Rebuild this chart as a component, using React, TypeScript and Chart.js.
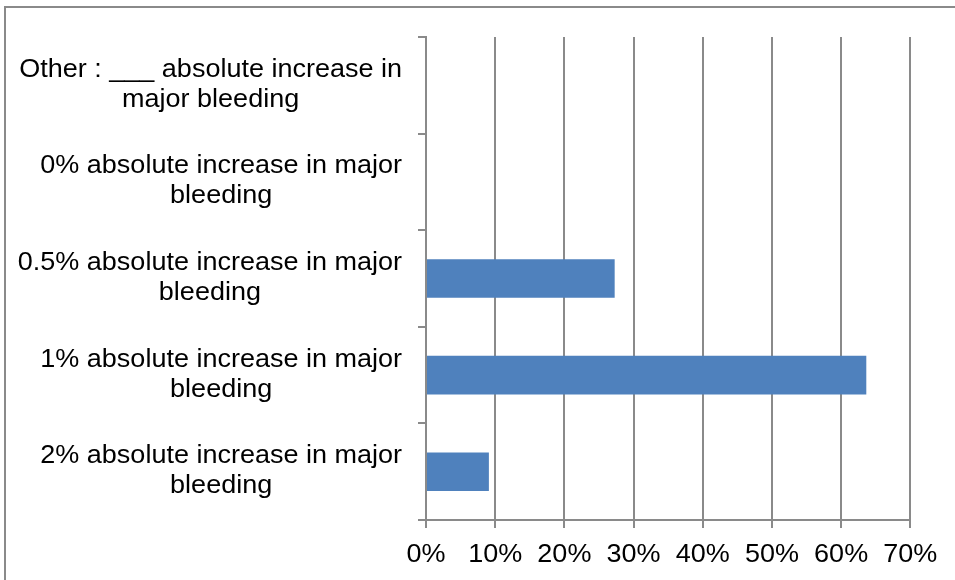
import React, { useEffect, useRef } from "react";
import { Chart, registerables } from "chart.js";

Chart.register(...registerables);

// Answer options, top to bottom, already split into display lines
const categories: string[][] = [
  ["Other : ___ absolute increase in", "major bleeding"],
  ["0% absolute increase in major", "bleeding"],
  ["0.5% absolute increase in major", "bleeding"],
  ["1% absolute increase in major", "bleeding"],
  ["2% absolute increase in major", "bleeding"],
];

// Share of responses (%)
const responses: number[] = [0, 0, 27.27, 63.64, 9.09];

const xTickValues: number[] = [0, 10, 20, 30, 40, 50, 60, 70];
const xTickLabels: string[] = ["0%", "10%", "20%", "30%", "40%", "50%", "60%", "70%"];

const FONT = '25px "Liberation Sans", Arial, sans-serif';
const STRETCH = 1.08;
const LINE_GAP = 30;
const GRID = "#8a8a8a";
const BAR = "#4f81bd";

// Outer frame plus hand-set tick labels (wrapped, centred per label, slightly wide)
const textPlugin = {
  id: "frameAndLabels",
  beforeDraw(chart: any) {
    const ctx = chart.ctx;
    ctx.save();
    ctx.strokeStyle = GRID;
    ctx.lineWidth = 2;
    ctx.strokeRect(5, 7, 1200, 1200);
    ctx.restore();
  },
  afterDraw(chart: any) {
    const ctx = chart.ctx;
    const y = chart.scales.y;
    const x = chart.scales.x;
    ctx.save();
    ctx.font = FONT;
    ctx.fillStyle = "#000000";
    ctx.textAlign = "center";
    ctx.textBaseline = "alphabetic";

    categories.forEach((lines, i) => {
      const c = y.getPixelForValue(i);
      const widest = Math.max(...lines.map((l) => ctx.measureText(l).width)) * STRETCH;
      const cx = y.right - 24 - widest / 2;
      const first = c - ((lines.length - 1) * LINE_GAP) / 2 + 6.5;
      lines.forEach((line, k) => {
        ctx.save();
        ctx.translate(cx, first + k * LINE_GAP);
        ctx.scale(STRETCH, 1);
        ctx.fillText(line, 0, 0);
        ctx.restore();
      });
    });

    xTickValues.forEach((v, i) => {
      ctx.save();
      ctx.translate(x.getPixelForValue(v), 562);
      ctx.scale(STRETCH, 1);
      ctx.fillText(xTickLabels[i], 0, 0);
      ctx.restore();
    });
    ctx.restore();
  },
};

export default function App() {
  const canvasRef = useRef<HTMLCanvasElement | null>(null);

  useEffect(() => {
    if (!canvasRef.current) return;
    const chart = new Chart(canvasRef.current, {
      type: "bar",
      data: {
        labels: categories,
        datasets: [
          {
            data: responses,
            backgroundColor: BAR,
            borderWidth: 0,
            barPercentage: 0.4,
            categoryPercentage: 1,
          },
        ],
      },
      options: {
        indexAxis: "y",
        animation: false,
        responsive: false,
        layout: { padding: { top: 37, right: 44.7, bottom: 0, left: 0 } },
        plugins: {
          legend: { display: false },
          tooltip: { enabled: false },
        },
        scales: {
          x: {
            type: "linear",
            min: 0,
            max: 70,
            ticks: { stepSize: 10, display: false },
            grid: {
              display: true,
              drawOnChartArea: true,
              drawTicks: true,
              tickLength: 8,
              color: GRID,
              lineWidth: 2,
            },
            border: { display: true, color: GRID, width: 2 },
            afterFit: (scale: any) => {
              scale.height = 60;
            },
          },
          y: {
            type: "category",
            z: 1,
            ticks: { display: false },
            grid: {
              display: true,
              offset: true,
              drawOnChartArea: false,
              drawTicks: true,
              tickLength: 8,
              color: GRID,
              lineWidth: 2,
            },
            border: { display: true, color: GRID, width: 2 },
            afterFit: (scale: any) => {
              scale.width = 426;
            },
          },
        },
      },
      plugins: [textPlugin],
    });
    return () => chart.destroy();
  }, []);

  return (
    <div style={{ width: 955, height: 580, background: "#ffffff" }}>
      <style>{"body{margin:0;background:#fff;}"}</style>
      <canvas ref={canvasRef} width={955} height={580} />
    </div>
  );
}
